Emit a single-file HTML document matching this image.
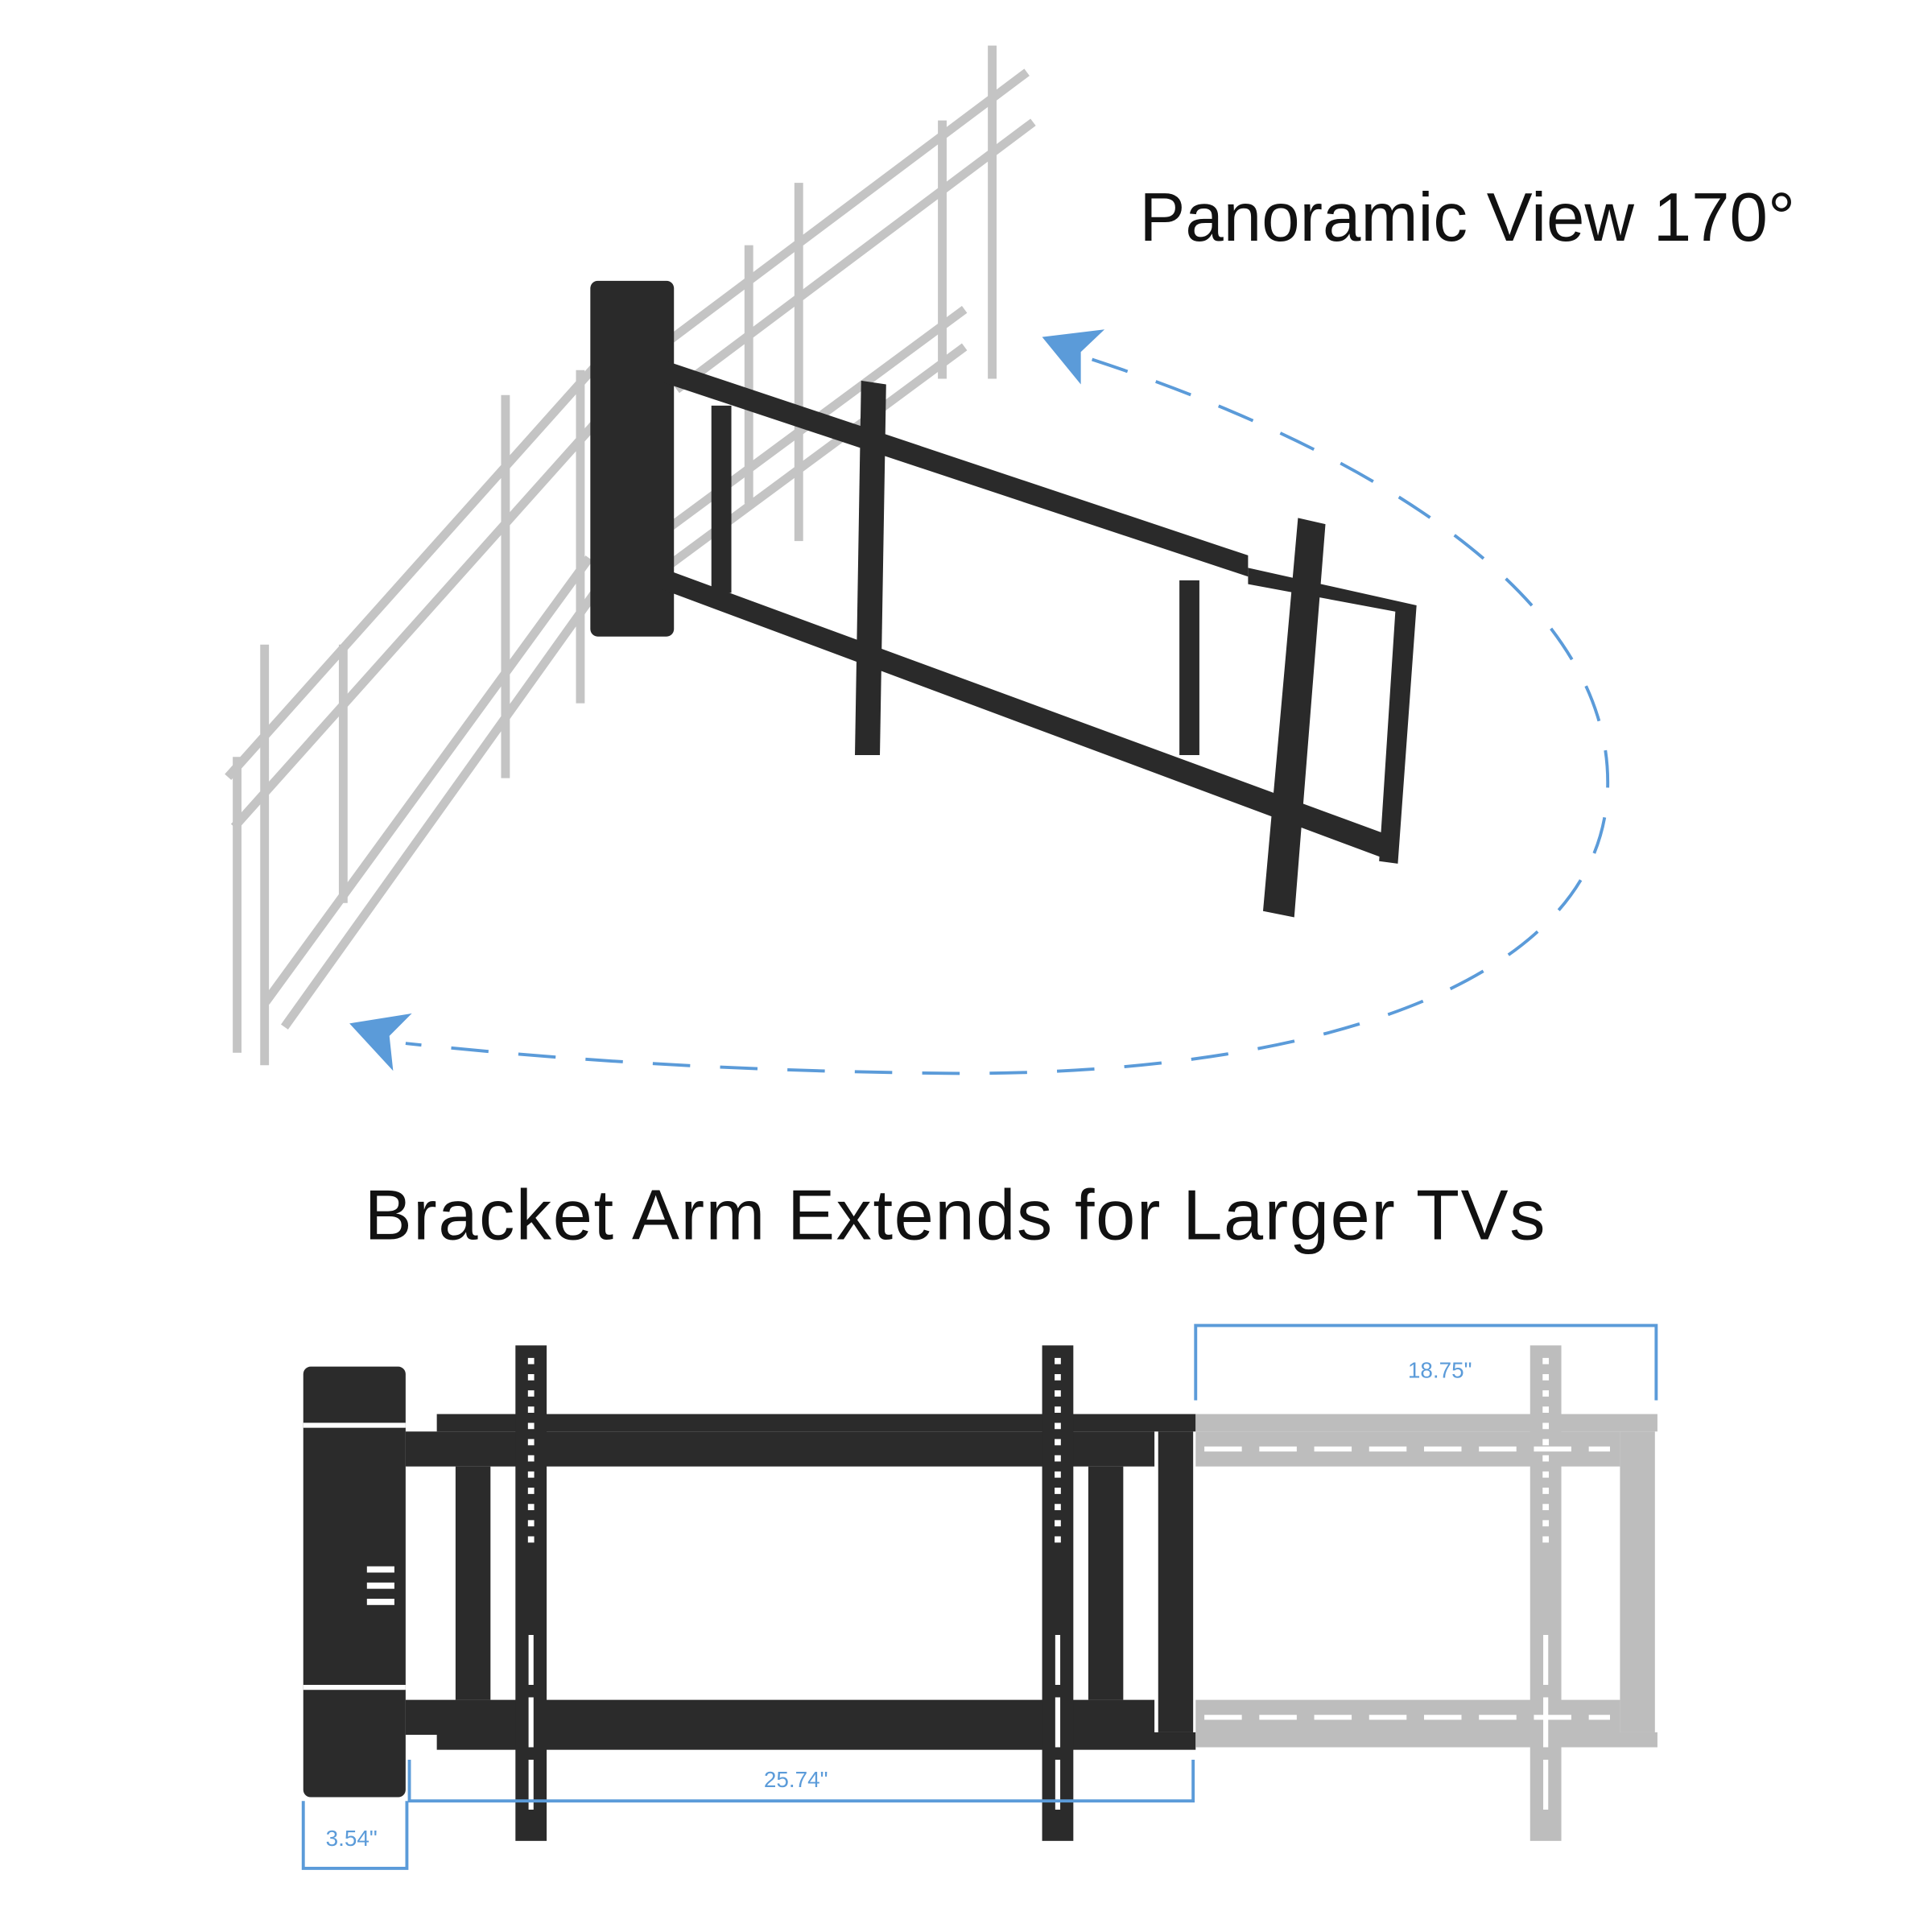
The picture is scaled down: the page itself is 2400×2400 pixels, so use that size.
<!DOCTYPE html>
<html><head><style>html,body{margin:0;padding:0;background:#fff}svg{display:block}</style></head>
<body>
<svg width="2400" height="2400" viewBox="0 0 1548 1548" xmlns="http://www.w3.org/2000/svg" font-family="Liberation Sans, sans-serif">
<rect width="1548" height="1548" fill="#fff"/>
<text x="913" y="193" font-size="55" fill="#111">Panoramic View 170°</text>
<text x="292" y="993" font-size="57" fill="#111" textLength="946">Bracket Arm Extends for Larger TVs</text>

<!-- dashed arc -->
<path d="M875,288 C1110,365 1295,485 1288,635 C1280,790 1050,862 760,860 C560,858 420,846 325,836" fill="none" stroke="#5b9bd9" stroke-width="2.5" stroke-dasharray="30,24"/>
<polygon points="835,270 885,264 866,282 866,308" fill="#5b9bd9"/>
<polygon points="280,820 330,812 312,830 315,858" fill="#5b9bd9"/>

<!-- ghost gray frames -->
<g stroke="#c4c4c4" fill="none" stroke-linecap="square">
<path d="M540,270 L820,60 M545,310 L825,100 M540,450 L770,280 M540,420 L770,250" stroke-width="7"/>
<path d="M640,150 L640,430 M795,40 L795,300 M755,100 L755,300 M600,200 L600,400" stroke-width="7"/>
<path d="M480,290 L185,620 M485,330 L190,660 M480,470 L230,820 M470,450 L215,800" stroke-width="7"/>
<path d="M212,520 L212,850 M190,610 L190,840 M405,320 L405,620 M465,300 L465,560 M275,520 L275,720" stroke-width="7"/>
</g>

<!-- black 3D arm -->
<g fill="#2a2a2a">
<rect x="473" y="225" width="67" height="285" rx="6"/>
<polygon points="530,288 1000,445 1000,462 530,306"/>
<polygon points="530,455 1115,670 1115,690 530,472"/>
<polygon points="1000,455 1135,485 1120,692 1105,690 1118,490 1000,468"/>
<rect x="570" y="325" width="16" height="150"/>
<rect x="945" y="465" width="16" height="140"/>
<polygon points="690,305 710,308 705,605 685,605"/>
<polygon points="1040,415 1062,420 1037,735 1012,730"/>
</g>

<!-- bottom extension diagram -->
<g fill="#2b2b2b">
<rect x="243" y="1095" width="82" height="345" rx="6"/>
<rect x="350" y="1133" width="608" height="14"/>
<rect x="325" y="1147" width="600" height="28"/>
<rect x="325" y="1362" width="600" height="28"/>
<rect x="350" y="1388" width="608" height="14"/>
<rect x="365" y="1175" width="28" height="187"/>
<rect x="872" y="1175" width="28" height="187"/>
<rect x="928" y="1147" width="28" height="241"/>
<rect x="413" y="1078" width="25" height="397"/>
<rect x="835" y="1078" width="25" height="397"/>
</g>
<g fill="#fff">
<rect x="294" y="1255" width="22" height="5"/><rect x="294" y="1268" width="22" height="5"/><rect x="294" y="1281" width="22" height="5"/>
<rect x="243" y="1140" width="82" height="4"/><rect x="243" y="1350" width="82" height="4"/>
</g>
<g fill="#bdbdbd">
<rect x="958" y="1133" width="370" height="14"/>
<rect x="958" y="1147" width="340" height="28"/>
<rect x="958" y="1362" width="340" height="28"/>
<rect x="958" y="1388" width="370" height="12"/>
<rect x="1298" y="1147" width="28" height="241"/>
<rect x="1226" y="1078" width="25" height="397"/>
</g>
<g stroke="#fff" stroke-width="4" stroke-dasharray="30,14" fill="none">
<path d="M965,1161 L1290,1161 M965,1376 L1290,1376"/>
</g>
<g stroke="#fff" stroke-width="5" stroke-dasharray="5,8" fill="none">
<path d="M425.5,1088 L425.5,1240 M847.5,1088 L847.5,1240 M1238.5,1088 L1238.5,1240"/>
</g>
<g stroke="#fff" stroke-width="4" fill="none">
<path d="M425.5,1310 L425.5,1455 M847.5,1310 L847.5,1455 M1238.5,1310 L1238.5,1455" stroke-dasharray="40,10"/>
</g>
<g stroke="#5b9bd9" stroke-width="2.5" fill="none">
<path d="M958,1122 L958,1062 L1327,1062 L1327,1122"/>
<path d="M328,1410 L328,1443 L956,1443 L956,1410"/>
<path d="M243,1443 L243,1497 L326,1497 L326,1443"/>
</g>
<g fill="#5b9bd9" font-size="18">
<text x="1128" y="1104">18.75"</text>
<text x="612" y="1432">25.74"</text>
<text x="261" y="1479">3.54"</text>
</g>
</svg>
</body></html>
